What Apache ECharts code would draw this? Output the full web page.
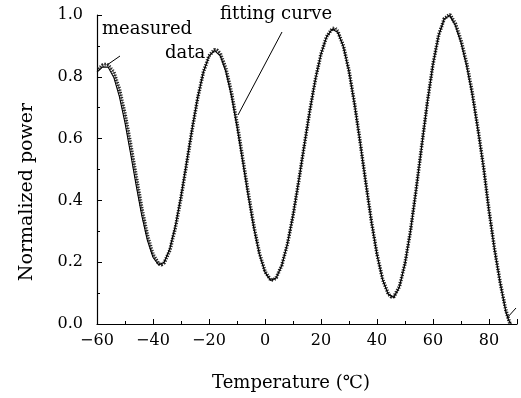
<!DOCTYPE html>
<html>
<head>
<meta charset="utf-8">
<script src="https://cdn.jsdelivr.net/npm/echarts@6/dist/echarts.min.js"></script>
<style>
html,body{margin:0;padding:0;background:#fff;}
#chart{width:521px;height:398px;}
</style>
</head>
<body>
<div id="chart"></div>
<script>
// Temperature (°C) of measured samples and fitted curve
const measuredT = [-59.5,-58,-57,-56,-54,-52,-50,-48,-46,-44,-42,-40,-38,-37,-36,-34,-32,-30,-28,-26,-24,-22,-20,-18,-17,-16,-14,-12,-10,-8,-6,-4,-2,0,2,3,4,6,8,10,12,14,16,18,20,22,24,25,26,28,30,32,34,36,38,40,42,44,45,46,48,50,52,54,56,58,60,62,64,66,68,70,72,74,76,78,80,82,84,86,87.5];
const measuredP = [0.825,0.838,0.840,0.838,0.815,0.760,0.680,0.582,0.478,0.375,0.288,0.226,0.195,0.192,0.198,0.238,0.312,0.408,0.518,0.630,0.733,0.815,0.868,0.888,0.885,0.876,0.828,0.750,0.650,0.538,0.425,0.318,0.230,0.170,0.143,0.142,0.150,0.190,0.258,0.350,0.460,0.576,0.690,0.792,0.874,0.930,0.956,0.958,0.947,0.900,0.820,0.712,0.588,0.458,0.333,0.226,0.145,0.098,0.088,0.088,0.121,0.196,0.304,0.437,0.579,0.719,0.841,0.934,0.988,1.002,0.972,0.918,0.845,0.750,0.635,0.512,0.368,0.242,0.134,0.045,0.0];
const fitT = [-60,-58,-56,-54,-52,-50,-48,-46,-44,-42,-40,-38,-36,-34,-32,-30,-28,-26,-24,-22,-20,-18,-16,-14,-12,-10,-8,-6,-4,-2,0,2,4,6,8,10,12,14,16,18,20,22,24,26,28,30,32,34,36,38,40,42,44,46,48,50,52,54,56,58,60,62,64,66,68,70,72,74,76,78,80,82,84,86,87,88];
const fitP = [0.815,0.832,0.831,0.798,0.736,0.651,0.551,0.448,0.351,0.271,0.216,0.191,0.200,0.244,0.318,0.414,0.524,0.634,0.735,0.815,0.867,0.885,0.868,0.817,0.738,0.638,0.527,0.414,0.310,0.225,0.167,0.141,0.149,0.190,0.259,0.352,0.461,0.577,0.690,0.792,0.874,0.929,0.954,0.944,0.897,0.816,0.709,0.585,0.455,0.331,0.224,0.143,0.096,0.086,0.120,0.195,0.303,0.436,0.578,0.718,0.840,0.933,0.987,0.998,0.965,0.910,0.835,0.742,0.630,0.509,0.365,0.238,0.132,0.040,0.012,0.0];
const xTicks = [-60,-40,-20,0,20,40,60,80];
const yTicks = [0.0,0.2,0.4,0.6,0.8,1.0];

const FONT = 'DejaVu Serif';
const chart = echarts.init(document.getElementById('chart'), null, {renderer:'canvas'});
const zip = (a,b) => a.map((v,i)=>[v,b[i]]);

chart.setOption({
  animation:false,
  backgroundColor:'#fff',
  grid:{left:97,right:4,top:15,bottom:74,containLabel:false},
  xAxis:{
    type:'value',min:-60,max:90,interval:20,
    axisLine:{show:true,onZero:false,lineStyle:{color:'#000',width:1.2}},
    axisTick:{show:true,inside:true,length:5,lineStyle:{color:'#000'}},
    minorTick:{show:true,splitNumber:2,length:3,lineStyle:{color:'#000'}},
    splitLine:{show:false},
    axisLabel:{show:true,showMaxLabel:false,margin:9,color:'#000',fontFamily:FONT,fontSize:16,
      formatter:v => xTicks.indexOf(v)>=0 ? String(v).replace('-','\u2212') : ''}
  },
  yAxis:{
    type:'value',min:0,max:1,interval:0.2,
    axisLine:{show:true,onZero:false,lineStyle:{color:'#000',width:1.2}},
    axisTick:{show:true,inside:true,length:5,lineStyle:{color:'#000'}},
    minorTick:{show:true,splitNumber:2,length:3,lineStyle:{color:'#000'}},
    splitLine:{show:false},
    axisLabel:{margin:14,color:'#000',fontFamily:FONT,fontSize:16,
      formatter:v => yTicks.some(t=>Math.abs(t-v)<1e-9) ? v.toFixed(1) : ''}
  },
  series:[
    {name:'measured data',type:'line',data:zip(measuredT,measuredP),showSymbol:false,
     lineStyle:{color:'#222',width:3.6,type:[1.2,1.4]},z:2},
    {name:'measured data',type:'line',data:zip(measuredT,measuredP),showSymbol:false,
     lineStyle:{color:'#777',width:1},z:1},
    {name:'fitting curve',type:'line',data:zip(fitT,fitP),showSymbol:false,
     lineStyle:{color:'#000',width:1.1},z:3}
  ],
  graphic:[
    {type:'text',left:102,top:20,style:{text:'measured',font:'18px "DejaVu Serif"',fill:'#000'}},
    {type:'text',left:165,top:44,style:{text:'data',font:'18px "DejaVu Serif"',fill:'#000'}},
    {type:'line',shape:{x1:120,y1:56,x2:107,y2:65},style:{stroke:'#000',lineWidth:1}},
    {type:'text',left:220,top:5,style:{text:'fitting curve',font:'18px "DejaVu Serif"',fill:'#000'}},
    {type:'line',shape:{x1:282,y1:32,x2:238,y2:115},style:{stroke:'#000',lineWidth:1}},
    {type:'line',shape:{x1:507,y1:318,x2:516,y2:308},style:{stroke:'#000',lineWidth:1}},
    {type:'text',x:291,y:383,style:{text:'Temperature (\u2103)',font:'18px "DejaVu Serif"',fill:'#000',textAlign:'center',textVerticalAlign:'middle'}},
    {type:'text',x:27,y:192,rotation:Math.PI/2,style:{text:'Normalized power',font:'19px "DejaVu Serif"',fill:'#000',textAlign:'center',textVerticalAlign:'middle'}}
  ]
});
</script>
</body>
</html>
